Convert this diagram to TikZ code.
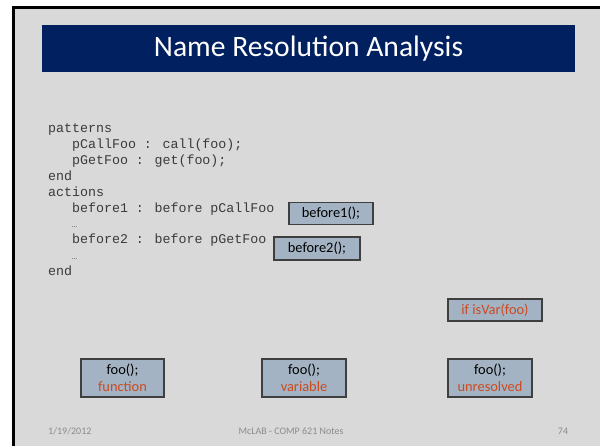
\documentclass[tikz,border=0pt]{standalone}
\usepackage{fontspec}
\setmainfont{Carlito}
\newfontfamily\codefont{Liberation Mono}
\definecolor{slidebg}{HTML}{D9D9D9}
\definecolor{navy}{HTML}{002060}
\definecolor{boxfill}{HTML}{A3B3C3}
\definecolor{boxline}{HTML}{3F3F3F}
\definecolor{codecol}{HTML}{3A3A3A}
\definecolor{redtext}{HTML}{CC4A1F}
\definecolor{footcol}{HTML}{8C8C8C}
\tikzset{
  codeline/.style={anchor=base west, inner sep=0pt, text=codecol, font=\codefont\fontsize{13.3}{16}\selectfont},
  dots/.style={anchor=base west, inner sep=0pt, text=codecol, font=\fontsize{7}{8}\selectfont},
  codebox/.style={draw=boxline, line width=1.2pt, fill=boxfill, inner sep=0pt, align=center, font=\fontsize{14.4}{17}\selectfont},
  foot/.style={inner sep=0pt, text=footcol, font=\fontsize{10}{12}\selectfont},
}
\begin{document}
\begin{tikzpicture}[x=1pt,y=-1pt]
\useasboundingbox (0,0) rectangle (600,446);
\fill[white] (0,0) rectangle (600,446);
\fill[slidebg] (13,7) rectangle (600,446);
\draw[line width=2.5pt] (13.5,446) -- (13.5,7.5) -- (600,7.5);
\fill[navy] (42,25) rectangle (575,72);
\node[text=white, inner sep=0pt, font=\fontsize{29.6}{34}\selectfont] (title) at (308.5,48.5) {Name Resolution Analysis};

\node[codeline] (c1) at (48,133) {patterns};
\node[codeline] (c2) at (48,149) {\ \ \ pCallFoo : call(foo);};
\node[codeline] (c3) at (48,165) {\ \ \ pGetFoo : get(foo);};
\node[codeline] (c4) at (48,181) {end};
\node[codeline] (c5) at (48,197) {actions};
\node[codeline] (c6) at (48,213) {\ \ \ before1 : before pCallFoo};
\node[dots] (c7) at (72,228) {…};
\node[codeline] (c8) at (48,244) {\ \ \ before2 : before pGetFoo};
\node[dots] (c9) at (72,260) {…};
\node[codeline] (c10) at (48,276) {end};

\node[codebox, minimum width=84pt, minimum height=22pt] (b1) at (331,213.5) {before1();};
\node[codebox, minimum width=86pt, minimum height=23pt] (b2) at (317,248.5) {before2();};
\node[codebox, minimum width=94pt, minimum height=22pt, text=redtext] (iv) at (495,310) {if isVar(foo)};

\node[codebox, minimum width=83pt, minimum height=38pt] (f1) at (122.5,378) {foo();\\\textcolor{redtext}{function}};
\node[codebox, minimum width=84pt, minimum height=38pt] (f2) at (304,378) {foo();\\\textcolor{redtext}{variable}};
\node[codebox, minimum width=84pt, minimum height=38pt] (f3) at (490,378) {foo();\\\textcolor{redtext}{unresolved}};

\node[foot, anchor=west] (d) at (48,431) {1/19/2012};
\node[foot] (m) at (291,431) {McLAB - COMP 621 Notes};
\node[foot] (p) at (563,431) {74};
\end{tikzpicture}
\end{document}
